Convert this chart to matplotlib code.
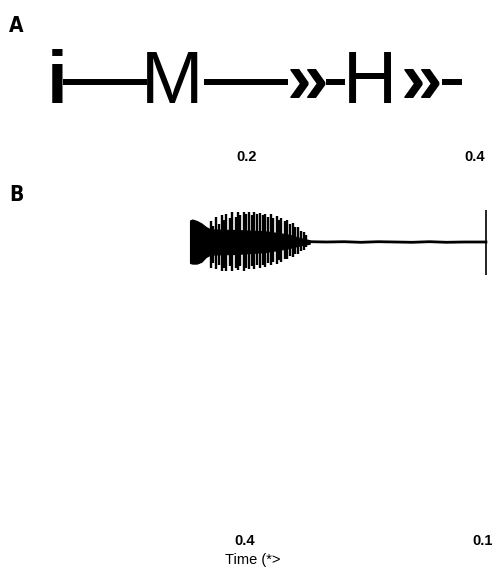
import numpy as np
import matplotlib
matplotlib.use("Agg")
import matplotlib.pyplot as plt

# panel A schematic: glyphs and the bars that join them (x in px of the figure)
schema_glyphs = ["i", "M", "\u00bb", "H", "\u00bb"]
schema_left = [47, 141, 287, 343, 401]
schema_bold = [True, False, True, False, True]
schema_bars = [(63, 147), (204, 288), (326, 345), (442, 462)]

# panel B: recorded waveform (time in s, amplitude relative)
spike_t = [0.168, 0.170, 0.173, 0.175, 0.178, 0.180, 0.182, 0.185, 0.187,
           0.190, 0.192, 0.194, 0.197, 0.199, 0.202, 0.204, 0.206, 0.209,
           0.211, 0.214, 0.216, 0.218, 0.221, 0.223, 0.226, 0.228, 0.230,
           0.233, 0.235, 0.238, 0.240, 0.242, 0.245, 0.247, 0.250, 0.252]
spike_up = [0.70, 0.55, 0.85, 0.60, 0.90, 0.75, 0.95, 0.80, 1.00, 0.85, 1.00,
            0.90, 1.00, 0.95, 1.00, 0.90, 1.00, 0.95, 0.98, 0.90, 0.95, 0.85,
            0.92, 0.80, 0.88, 0.75, 0.80, 0.70, 0.72, 0.60, 0.62, 0.50, 0.50,
            0.38, 0.35, 0.22]
spike_dn = [-0.85, -0.70, -0.90, -0.75, -0.95, -0.85, -0.95, -0.80, -0.95,
            -0.85, -0.92, -0.80, -0.95, -0.85, -0.90, -0.80, -0.90, -0.78,
            -0.85, -0.75, -0.82, -0.70, -0.78, -0.65, -0.72, -0.60, -0.65,
            -0.55, -0.58, -0.48, -0.50, -0.40, -0.40, -0.30, -0.28, -0.18]
core_t = [0.150, 0.152, 0.156, 0.160, 0.164, 0.168, 0.190, 0.215, 0.235, 0.248, 0.255]
core_up = [0.72, 0.75, 0.70, 0.62, 0.50, 0.42, 0.40, 0.36, 0.26, 0.12, 0.06]
core_dn = [-0.70, -0.72, -0.72, -0.66, -0.50, -0.42, -0.40, -0.34, -0.22, -0.10, -0.06]
tail_t = [0.255, 0.270, 0.285, 0.300, 0.315, 0.330, 0.345, 0.360, 0.375, 0.390, 0.4096]
tail_y = [0.01, 0.0, 0.01, -0.01, 0.01, 0.0, -0.01, 0.01, -0.01, 0.0, 0.0]
end_t = 0.4096
end_range = (-1.1, 1.07)

top_ticks = [0.2, 0.4]
top_labels = ["0.2", "0.4"]
bottom_ticks = [0.198, 0.407]
bottom_labels = ["0.4", "0.1"]
xlabel = "Time (*>"

plt.rcParams['font.family'] = ['Liberation Sans', 'DejaVu Sans']

W, H = 496, 575
fig = plt.figure(figsize=(W / 100, H / 100), dpi=100)

# overlay in pixel coords for the schematic and panel letters
ov = fig.add_axes([0, 0, 1, 1])
ov.set_xlim(0, W)
ov.set_ylim(H, 0)
ov.axis("off")

for g, x0, b in zip(schema_glyphs, schema_left, schema_bold):
    ov.text(x0, 103, g, fontsize=54, fontweight="bold" if b else "normal",
            ha="left", va="baseline")
for a, b in schema_bars:
    ov.plot([a, b], [82, 82], color="black", lw=4.3, solid_capstyle="butt")

for lab, y in [("A", 32), ("B", 201)]:
    ov.text(9, y, lab, fontsize=15, fontweight="bold", family="DejaVu Sans",
            fontstretch="condensed", ha="left", va="baseline")

# panel B axes
ax = fig.add_axes([19 / W, 1 - 528 / H, 477 / W, 358 / H])
ax.patch.set_visible(False)
ax.set_xlim(0, 477 / 1140)
ax.set_ylim(-(528 - 242) / 30, (242 - 170) / 30)
ax.fill_between(core_t, core_dn, core_up, color="black", lw=0.8)
ax.vlines(spike_t, spike_dn, spike_up, color="black", lw=1.7)
ax.plot(tail_t, tail_y, color="black", lw=2.0)
ax.vlines(end_t, *end_range, color="black", lw=1.2)

for s in ax.spines.values():
    s.set_visible(False)
ax.set_yticks([])
ax.set_xticks(bottom_ticks)
ax.set_xticklabels(bottom_labels, fontweight="bold", fontsize=10.5)
ax.tick_params(axis="x", length=0, pad=4)
ax.set_xlabel(xlabel, fontsize=10.5)
ax.xaxis.set_label_coords((253 - 19) / 477, -0.07)

tx = ax.secondary_xaxis("top")
tx.set_xticks(top_ticks)
tx.set_xticklabels(top_labels, fontweight="bold", fontsize=10.5)
tx.tick_params(length=0, pad=4)
tx.spines["top"].set_visible(False)

fig.savefig("out.png", dpi=100)
